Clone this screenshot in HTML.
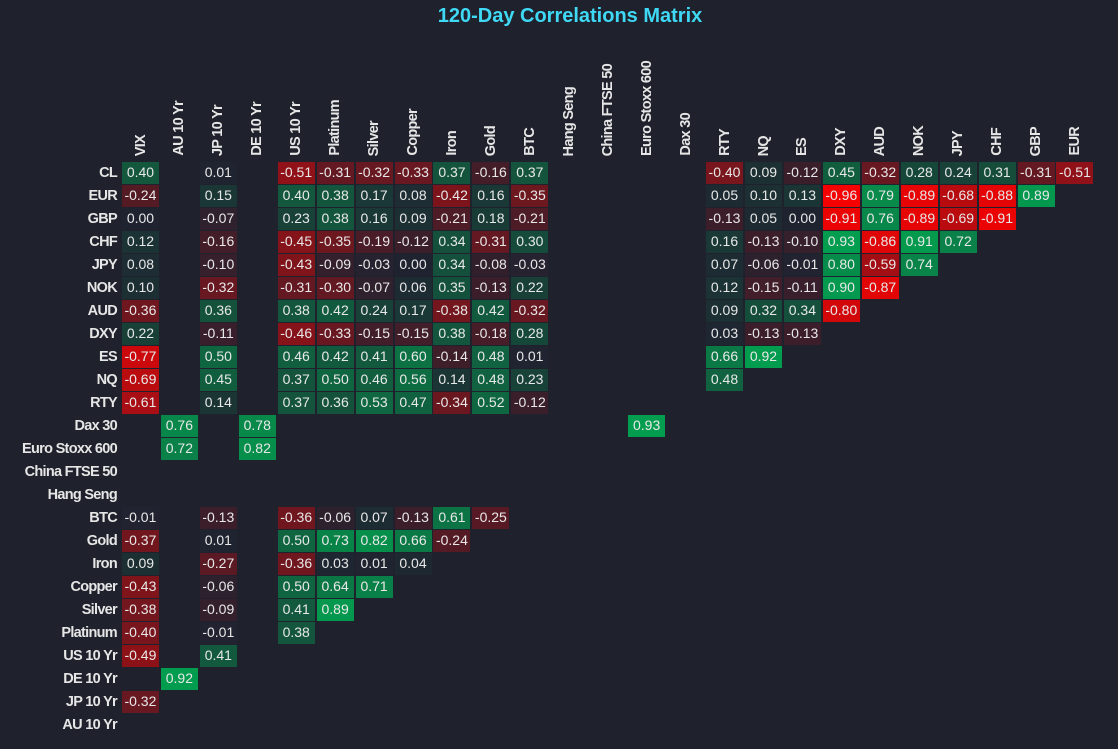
<!DOCTYPE html>
<html><head><meta charset="utf-8"><style>
body{margin:0;width:1118px;height:749px;background:#1f222c;font-family:"Liberation Sans",sans-serif;overflow:hidden;position:relative}
.t{position:absolute;top:5px;left:0;width:1140px;text-align:center;color:#3fd8f5;font-weight:bold;font-size:20px}
.hd{position:absolute;top:40px;left:122px;height:116px;display:grid;grid-template-columns:repeat(25,37px);column-gap:1.95px}
.hd span{writing-mode:vertical-rl;transform:rotate(180deg);justify-self:center;align-self:end;color:#e6e6e6;font-weight:bold;font-size:14.5px;letter-spacing:-0.7px;white-space:nowrap;text-align:left}
.g{position:absolute;top:162px;left:0;display:grid;grid-template-columns:120px repeat(25,37px);grid-auto-rows:21.5px;column-gap:1.95px;row-gap:1.5px}
.g u{text-decoration:none;text-align:right;color:#e6e6e6;font-weight:bold;font-size:14.5px;letter-spacing:-0.7px;line-height:21.5px;padding-right:3px;padding-top:1px;white-space:nowrap}
.g b{font-weight:normal;color:#e8e8e8;font-size:14px;line-height:21.5px;text-align:center;
background:rgb(calc(31 + 224*max(0,-1*var(--v)) - 31*max(0,var(--v))),calc(35 - 35*max(0,-1*var(--v)) + 131*max(0,var(--v))),calc(48 - 48*max(0,-1*var(--v)) + 33*max(0,var(--v))))}
.g i{display:block}
</style></head><body>
<div class="t">120-Day Correlations Matrix</div>
<div class="hd"><span>VIX</span><span>AU 10 Yr</span><span>JP 10 Yr</span><span>DE 10 Yr</span><span>US 10 Yr</span><span>Platinum</span><span>Silver</span><span>Copper</span><span>Iron</span><span>Gold</span><span>BTC</span><span>Hang Seng</span><span>China FTSE 50</span><span>Euro Stoxx 600</span><span>Dax 30</span><span>RTY</span><span>NQ</span><span>ES</span><span>DXY</span><span>AUD</span><span>NOK</span><span>JPY</span><span>CHF</span><span>GBP</span><span>EUR</span></div>
<div class="g">
<u>CL</u><b style="--v:.40">0.40</b><i></i><b style="--v:.01">0.01</b><i></i><b style="--v:-.51">-0.51</b><b style="--v:-.31">-0.31</b><b style="--v:-.32">-0.32</b><b style="--v:-.33">-0.33</b><b style="--v:.37">0.37</b><b style="--v:-.16">-0.16</b><b style="--v:.37">0.37</b><i></i><i></i><i></i><i></i><b style="--v:-.40">-0.40</b><b style="--v:.09">0.09</b><b style="--v:-.12">-0.12</b><b style="--v:.45">0.45</b><b style="--v:-.32">-0.32</b><b style="--v:.28">0.28</b><b style="--v:.24">0.24</b><b style="--v:.31">0.31</b><b style="--v:-.31">-0.31</b><b style="--v:-.51">-0.51</b>
<u>EUR</u><b style="--v:-.24">-0.24</b><i></i><b style="--v:.15">0.15</b><i></i><b style="--v:.40">0.40</b><b style="--v:.38">0.38</b><b style="--v:.17">0.17</b><b style="--v:.08">0.08</b><b style="--v:-.42">-0.42</b><b style="--v:.16">0.16</b><b style="--v:-.35">-0.35</b><i></i><i></i><i></i><i></i><b style="--v:.05">0.05</b><b style="--v:.10">0.10</b><b style="--v:.13">0.13</b><b style="--v:-.96">-0.96</b><b style="--v:.79">0.79</b><b style="--v:-.89">-0.89</b><b style="--v:-.68">-0.68</b><b style="--v:-.88">-0.88</b><b style="--v:.89">0.89</b><i></i>
<u>GBP</u><b style="--v:0">0.00</b><i></i><b style="--v:-.07">-0.07</b><i></i><b style="--v:.23">0.23</b><b style="--v:.38">0.38</b><b style="--v:.16">0.16</b><b style="--v:.09">0.09</b><b style="--v:-.21">-0.21</b><b style="--v:.18">0.18</b><b style="--v:-.21">-0.21</b><i></i><i></i><i></i><i></i><b style="--v:-.13">-0.13</b><b style="--v:.05">0.05</b><b style="--v:0">0.00</b><b style="--v:-.91">-0.91</b><b style="--v:.76">0.76</b><b style="--v:-.89">-0.89</b><b style="--v:-.69">-0.69</b><b style="--v:-.91">-0.91</b><i></i><i></i>
<u>CHF</u><b style="--v:.12">0.12</b><i></i><b style="--v:-.16">-0.16</b><i></i><b style="--v:-.45">-0.45</b><b style="--v:-.35">-0.35</b><b style="--v:-.19">-0.19</b><b style="--v:-.12">-0.12</b><b style="--v:.34">0.34</b><b style="--v:-.31">-0.31</b><b style="--v:.30">0.30</b><i></i><i></i><i></i><i></i><b style="--v:.16">0.16</b><b style="--v:-.13">-0.13</b><b style="--v:-.10">-0.10</b><b style="--v:.93">0.93</b><b style="--v:-.86">-0.86</b><b style="--v:.91">0.91</b><b style="--v:.72">0.72</b><i></i><i></i><i></i>
<u>JPY</u><b style="--v:.08">0.08</b><i></i><b style="--v:-.10">-0.10</b><i></i><b style="--v:-.43">-0.43</b><b style="--v:-.09">-0.09</b><b style="--v:-.03">-0.03</b><b style="--v:0">0.00</b><b style="--v:.34">0.34</b><b style="--v:-.08">-0.08</b><b style="--v:-.03">-0.03</b><i></i><i></i><i></i><i></i><b style="--v:.07">0.07</b><b style="--v:-.06">-0.06</b><b style="--v:-.01">-0.01</b><b style="--v:.80">0.80</b><b style="--v:-.59">-0.59</b><b style="--v:.74">0.74</b><i></i><i></i><i></i><i></i>
<u>NOK</u><b style="--v:.10">0.10</b><i></i><b style="--v:-.32">-0.32</b><i></i><b style="--v:-.31">-0.31</b><b style="--v:-.30">-0.30</b><b style="--v:-.07">-0.07</b><b style="--v:.06">0.06</b><b style="--v:.35">0.35</b><b style="--v:-.13">-0.13</b><b style="--v:.22">0.22</b><i></i><i></i><i></i><i></i><b style="--v:.12">0.12</b><b style="--v:-.15">-0.15</b><b style="--v:-.11">-0.11</b><b style="--v:.90">0.90</b><b style="--v:-.87">-0.87</b><i></i><i></i><i></i><i></i><i></i>
<u>AUD</u><b style="--v:-.36">-0.36</b><i></i><b style="--v:.36">0.36</b><i></i><b style="--v:.38">0.38</b><b style="--v:.42">0.42</b><b style="--v:.24">0.24</b><b style="--v:.17">0.17</b><b style="--v:-.38">-0.38</b><b style="--v:.42">0.42</b><b style="--v:-.32">-0.32</b><i></i><i></i><i></i><i></i><b style="--v:.09">0.09</b><b style="--v:.32">0.32</b><b style="--v:.34">0.34</b><b style="--v:-.80">-0.80</b><i></i><i></i><i></i><i></i><i></i><i></i>
<u>DXY</u><b style="--v:.22">0.22</b><i></i><b style="--v:-.11">-0.11</b><i></i><b style="--v:-.46">-0.46</b><b style="--v:-.33">-0.33</b><b style="--v:-.15">-0.15</b><b style="--v:-.15">-0.15</b><b style="--v:.38">0.38</b><b style="--v:-.18">-0.18</b><b style="--v:.28">0.28</b><i></i><i></i><i></i><i></i><b style="--v:.03">0.03</b><b style="--v:-.13">-0.13</b><b style="--v:-.13">-0.13</b><i></i><i></i><i></i><i></i><i></i><i></i><i></i>
<u>ES</u><b style="--v:-.77">-0.77</b><i></i><b style="--v:.50">0.50</b><i></i><b style="--v:.46">0.46</b><b style="--v:.42">0.42</b><b style="--v:.41">0.41</b><b style="--v:.60">0.60</b><b style="--v:-.14">-0.14</b><b style="--v:.48">0.48</b><b style="--v:.01">0.01</b><i></i><i></i><i></i><i></i><b style="--v:.66">0.66</b><b style="--v:.92">0.92</b><i></i><i></i><i></i><i></i><i></i><i></i><i></i><i></i>
<u>NQ</u><b style="--v:-.69">-0.69</b><i></i><b style="--v:.45">0.45</b><i></i><b style="--v:.37">0.37</b><b style="--v:.50">0.50</b><b style="--v:.46">0.46</b><b style="--v:.56">0.56</b><b style="--v:.14">0.14</b><b style="--v:.48">0.48</b><b style="--v:.23">0.23</b><i></i><i></i><i></i><i></i><b style="--v:.48">0.48</b><i></i><i></i><i></i><i></i><i></i><i></i><i></i><i></i><i></i>
<u>RTY</u><b style="--v:-.61">-0.61</b><i></i><b style="--v:.14">0.14</b><i></i><b style="--v:.37">0.37</b><b style="--v:.36">0.36</b><b style="--v:.53">0.53</b><b style="--v:.47">0.47</b><b style="--v:-.34">-0.34</b><b style="--v:.52">0.52</b><b style="--v:-.12">-0.12</b><i></i><i></i><i></i><i></i><i></i><i></i><i></i><i></i><i></i><i></i><i></i><i></i><i></i><i></i>
<u>Dax 30</u><i></i><b style="--v:.76">0.76</b><i></i><b style="--v:.78">0.78</b><i></i><i></i><i></i><i></i><i></i><i></i><i></i><i></i><i></i><b style="--v:.93">0.93</b><i></i><i></i><i></i><i></i><i></i><i></i><i></i><i></i><i></i><i></i><i></i>
<u>Euro Stoxx 600</u><i></i><b style="--v:.72">0.72</b><i></i><b style="--v:.82">0.82</b><i></i><i></i><i></i><i></i><i></i><i></i><i></i><i></i><i></i><i></i><i></i><i></i><i></i><i></i><i></i><i></i><i></i><i></i><i></i><i></i><i></i>
<u>China FTSE 50</u><i></i><i></i><i></i><i></i><i></i><i></i><i></i><i></i><i></i><i></i><i></i><i></i><i></i><i></i><i></i><i></i><i></i><i></i><i></i><i></i><i></i><i></i><i></i><i></i><i></i>
<u>Hang Seng</u><i></i><i></i><i></i><i></i><i></i><i></i><i></i><i></i><i></i><i></i><i></i><i></i><i></i><i></i><i></i><i></i><i></i><i></i><i></i><i></i><i></i><i></i><i></i><i></i><i></i>
<u>BTC</u><b style="--v:-.01">-0.01</b><i></i><b style="--v:-.13">-0.13</b><i></i><b style="--v:-.36">-0.36</b><b style="--v:-.06">-0.06</b><b style="--v:.07">0.07</b><b style="--v:-.13">-0.13</b><b style="--v:.61">0.61</b><b style="--v:-.25">-0.25</b><i></i><i></i><i></i><i></i><i></i><i></i><i></i><i></i><i></i><i></i><i></i><i></i><i></i><i></i><i></i>
<u>Gold</u><b style="--v:-.37">-0.37</b><i></i><b style="--v:.01">0.01</b><i></i><b style="--v:.50">0.50</b><b style="--v:.73">0.73</b><b style="--v:.82">0.82</b><b style="--v:.66">0.66</b><b style="--v:-.24">-0.24</b><i></i><i></i><i></i><i></i><i></i><i></i><i></i><i></i><i></i><i></i><i></i><i></i><i></i><i></i><i></i><i></i>
<u>Iron</u><b style="--v:.09">0.09</b><i></i><b style="--v:-.27">-0.27</b><i></i><b style="--v:-.36">-0.36</b><b style="--v:.03">0.03</b><b style="--v:.01">0.01</b><b style="--v:.04">0.04</b><i></i><i></i><i></i><i></i><i></i><i></i><i></i><i></i><i></i><i></i><i></i><i></i><i></i><i></i><i></i><i></i><i></i>
<u>Copper</u><b style="--v:-.43">-0.43</b><i></i><b style="--v:-.06">-0.06</b><i></i><b style="--v:.50">0.50</b><b style="--v:.64">0.64</b><b style="--v:.71">0.71</b><i></i><i></i><i></i><i></i><i></i><i></i><i></i><i></i><i></i><i></i><i></i><i></i><i></i><i></i><i></i><i></i><i></i><i></i>
<u>Silver</u><b style="--v:-.38">-0.38</b><i></i><b style="--v:-.09">-0.09</b><i></i><b style="--v:.41">0.41</b><b style="--v:.89">0.89</b><i></i><i></i><i></i><i></i><i></i><i></i><i></i><i></i><i></i><i></i><i></i><i></i><i></i><i></i><i></i><i></i><i></i><i></i><i></i>
<u>Platinum</u><b style="--v:-.40">-0.40</b><i></i><b style="--v:-.01">-0.01</b><i></i><b style="--v:.38">0.38</b><i></i><i></i><i></i><i></i><i></i><i></i><i></i><i></i><i></i><i></i><i></i><i></i><i></i><i></i><i></i><i></i><i></i><i></i><i></i><i></i>
<u>US 10 Yr</u><b style="--v:-.49">-0.49</b><i></i><b style="--v:.41">0.41</b><i></i><i></i><i></i><i></i><i></i><i></i><i></i><i></i><i></i><i></i><i></i><i></i><i></i><i></i><i></i><i></i><i></i><i></i><i></i><i></i><i></i><i></i>
<u>DE 10 Yr</u><i></i><b style="--v:.92">0.92</b><i></i><i></i><i></i><i></i><i></i><i></i><i></i><i></i><i></i><i></i><i></i><i></i><i></i><i></i><i></i><i></i><i></i><i></i><i></i><i></i><i></i><i></i><i></i>
<u>JP 10 Yr</u><b style="--v:-.32">-0.32</b><i></i><i></i><i></i><i></i><i></i><i></i><i></i><i></i><i></i><i></i><i></i><i></i><i></i><i></i><i></i><i></i><i></i><i></i><i></i><i></i><i></i><i></i><i></i><i></i>
<u>AU 10 Yr</u><i></i><i></i><i></i><i></i><i></i><i></i><i></i><i></i><i></i><i></i><i></i><i></i><i></i><i></i><i></i><i></i><i></i><i></i><i></i><i></i><i></i><i></i><i></i><i></i><i></i>
</div>
</body></html>
